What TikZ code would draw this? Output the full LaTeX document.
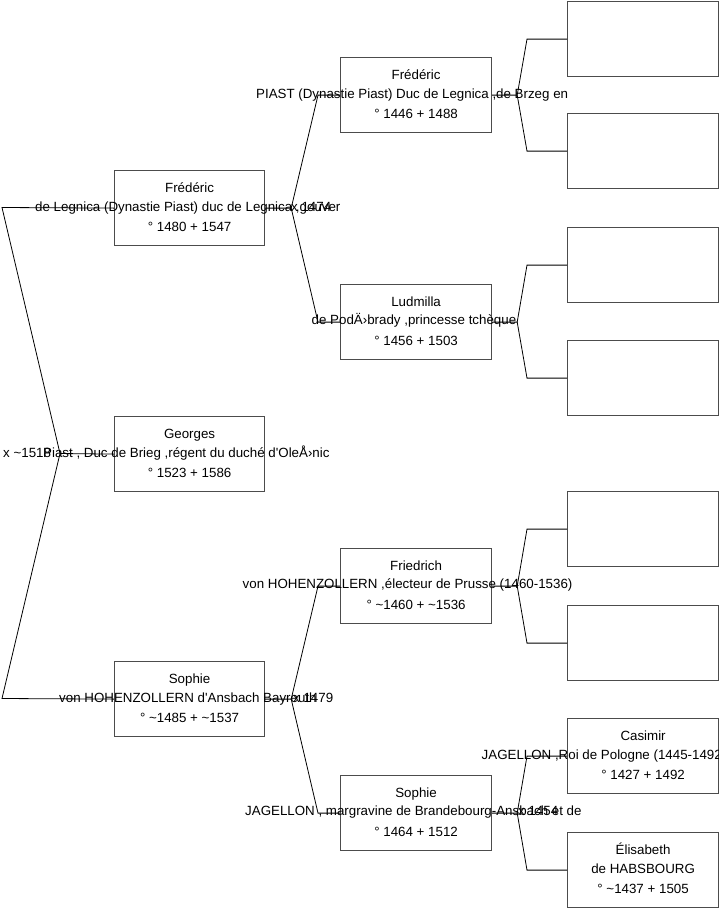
\documentclass[tikz,border=0pt]{standalone}
\usepackage{fontspec}
\setmainfont{Liberation Sans}[Ligatures=TeXOff]
\begin{document}
\begin{tikzpicture}[x=1pt,y=-1pt,
  box/.style={draw=black!70, line width=1.2pt, fill=white, minimum width=150pt, minimum height=75pt, inner sep=0pt, anchor=north west},
  wbox/.style={box, minimum width=151pt},
  txt/.style={font=\fontsize{13.33}{16}\selectfont, inner sep=0pt, anchor=base},
  txtw/.style={txt, anchor=base west},
  conn/.style={line width=0.8pt, black}]
\useasboundingbox (0,0) rectangle (719,908);
\clip (0,0) rectangle (719,908);
% boxes
\node[box] (b1) at (114,170) {};
\node[box] (b2) at (114,416) {};
\node[box] (b3) at (114,661) {};
\node[wbox] (c1) at (340,57) {};
\node[wbox] (c2) at (340,284) {};
\node[wbox] (c3) at (340,548) {};
\node[wbox] (c4) at (340,775) {};
\node[wbox] (d1) at (567,1) {};
\node[wbox] (d2) at (567,113) {};
\node[wbox] (d3) at (567,227) {};
\node[wbox] (d4) at (567,340) {};
\node[wbox] (d5) at (567,491) {};
\node[wbox] (d6) at (567,605) {};
\node[wbox] (d7) at (567,718) {};
\node[wbox] (d8) at (567,832) {};
% texts col 1
\node[txt] (b1n) at ([yshift=16pt]b1.center) {Frédéric};
\node[txtw] (b1m) at (35,211) {de Legnica (Dynastie Piast) duc de Legnica ,gouver};
\node[txt] (b1d) at ([yshift=-23pt]b1.center) {° 1480 + 1547};
\node[txt] (b2n) at ([yshift=16pt]b2.center) {Georges};
\node[txtw] (b2m) at (43,457) {Piast , Duc de Brieg ,régent du duché d'OleÅ›nic};
\node[txt] (b2d) at ([yshift=-23pt]b2.center) {° 1523 + 1586};
\node[txt] (b3n) at ([yshift=16pt]b3.center) {Sophie};
\node[txtw] (b3m) at (59,702) {von HOHENZOLLERN d'Ansbach Bayreuth};
\node[txt] (b3d) at ([yshift=-23pt]b3.center) {° \textasciitilde1485 + \textasciitilde1537};
% texts col 2
\node[txt] (c1n) at ([yshift=16pt]c1.center) {Frédéric};
\node[txtw] (c1m) at (256,98) {PIAST (Dynastie Piast) Duc de Legnica ,de Brzeg en};
\node[txt] (c1d) at ([yshift=-23pt]c1.center) {° 1446 + 1488};
\node[txt] (c2n) at ([yshift=16pt]c2.center) {Ludmilla};
\node[txtw] (c2m) at (311.5,324.5) {de PodÄ›brady ,princesse tchèque};
\node[txt] (c2d) at ([yshift=-23pt]c2.center) {° 1456 + 1503};
\node[txt] (c3n) at ([yshift=16pt]c3.center) {Friedrich};
\node[txtw] (c3m) at (242.5,588.5) {von HOHENZOLLERN ,électeur de Prusse (1460-1536)};
\node[txt] (c3d) at ([yshift=-23pt]c3.center) {° \textasciitilde1460 + \textasciitilde1536};
\node[txt] (c4n) at ([yshift=16pt]c4.center) {Sophie};
\node[txtw] (c4m) at (245,815.5) {JAGELLON , margravine de Brandebourg-Ansbach et de};
\node[txt] (c4d) at ([yshift=-23pt]c4.center) {° 1464 + 1512};
% texts col 3
\node[txt] (d7n) at ([yshift=16pt]d7.center) {Casimir};
\node[txtw] (d7m) at (481.5,759) {JAGELLON ,Roi de Pologne (1445-1492};
\node[txt] (d7d) at ([yshift=-23pt]d7.center) {° 1427 + 1492};
\node[txt] (d8n) at ([yshift=16pt]d8.center) {Élisabeth};
\node[txt] (d8m) at ([yshift=-3pt]d8.center) {de HABSBOURG};
\node[txt] (d8d) at ([yshift=-23pt]d8.center) {° \textasciitilde1437 + 1505};
% marriage labels
\node[txtw] (m0) at (3,457) {x \textasciitilde1518};
\node[txtw] (m1) at (291,211) {x 1474};
\node[txtw] (m3) at (293,702) {x 1479};
\node[txtw] (m4) at (518,815.5) {x 1454};
% connectors
\coordinate (r0) at (60,453.5);
\coordinate (rt) at (2,207.5);
\coordinate (rb) at (2,698.5);
\draw[conn] (b2.west) -- (r0) -- (rt) -- (b1.west);
\draw[conn] (r0) -- (rb) -- (b3.west);
\coordinate (a1) at ([xshift=26pt]b1.east);
\draw[conn] (b1.east) -- (a1) -- ([xshift=-22pt]c1.west) -- (c1.west);
\draw[conn] (a1) -- ([xshift=-22pt]c2.west) -- (c2.west);
\coordinate (a3) at ([xshift=26pt]b3.east);
\draw[conn] (b3.east) -- (a3) -- ([xshift=-22pt]c3.west) -- (c3.west);
\draw[conn] (a3) -- ([xshift=-22pt]c4.west) -- (c4.west);
\foreach \p/\u/\l in {c1/d1/d2, c2/d3/d4, c3/d5/d6, c4/d7/d8}{
  \coordinate (ap\p) at ([xshift=25pt]\p.east);
  \draw[conn] (\p.east) -- (ap\p) -- ([xshift=-40pt]\u.west) -- (\u.west);
  \draw[conn] (ap\p) -- ([xshift=-40pt]\l.west) -- (\l.west);
}
\end{tikzpicture}
\end{document}
